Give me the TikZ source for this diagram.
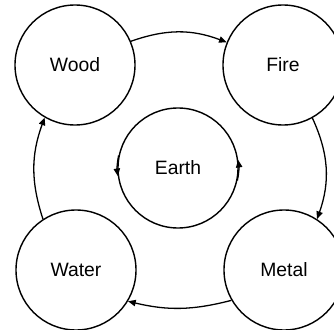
\documentclass[tikz,border=0pt]{standalone}
\usepackage{fontspec}
\setmainfont{Liberation Sans}
\usetikzlibrary{arrows.meta}
\begin{document}
\begin{tikzpicture}[
        x=0.3mm, y=0.3mm,
        font=\fontsize{16.5}{19}\selectfont,
        element/.style={draw, circle, line width=1.2pt, minimum size=36mm, inner sep=0pt},
        cycle arrow/.style={line width=1.1pt, -{Triangle[length=2.3mm, width=1.9mm]}},
    ]

    % Rahmen des Bildes (334 x 329 px)
    \useasboundingbox (0,0) rectangle (334,329);

    % Die fuenf Elemente
    \node[element] (wood)  at (75,264)  {Wood};
    \node[element] (fire)  at (283,264) {Fire};
    \node[element] (earth) at (178,161) {Earth};
    \node[element] (water) at (76,59)   {Water};
    \node[element] (metal) at (284,59)  {Metal};

    % Aeusserer Kreislauf
    \draw[cycle arrow] (wood.23)   to[bend left=20] (fire.158);
    \draw[cycle arrow] (fire.299)  to[bend left=22] (metal.57);
    \draw[cycle arrow] (metal.210) to[bend left=14] (water.329);
    \draw[cycle arrow] (water.123) to[bend left=19] (wood.240);

    % Pfeilspitzen auf dem Erdkreis
    \draw[cycle arrow] (earth.168) arc[start angle=168, end angle=188, radius=60];
    \draw[cycle arrow] (earth.348) arc[start angle=-12, end angle=8, radius=60];

\end{tikzpicture}
\end{document}
